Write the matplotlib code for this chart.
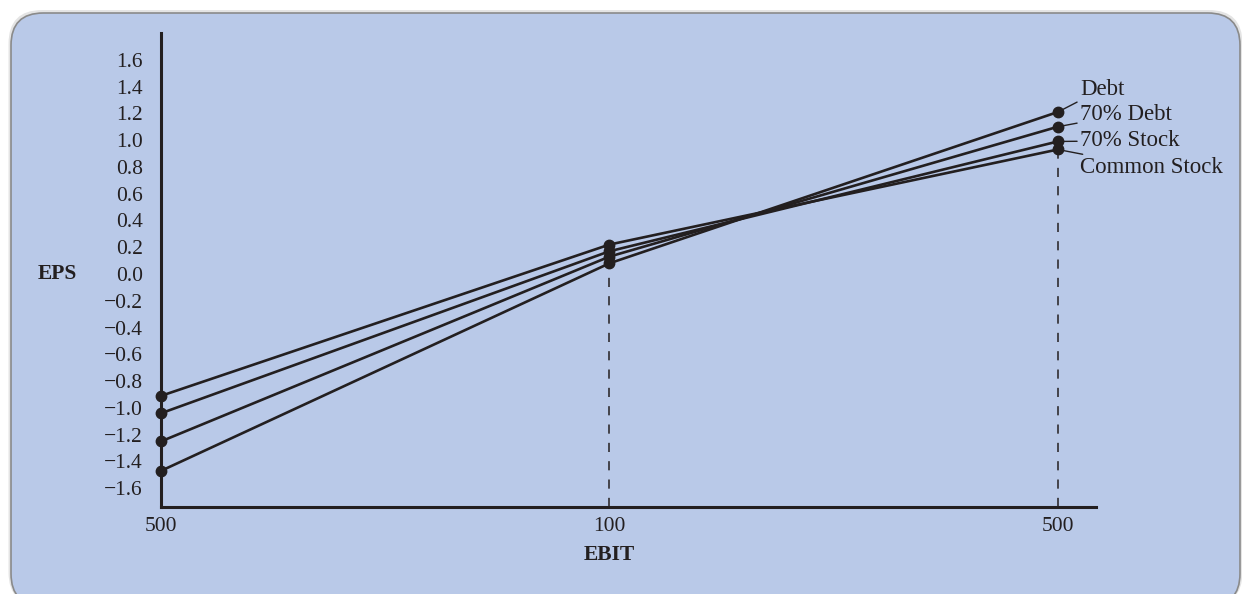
import matplotlib.pyplot as plt
from matplotlib.patches import FancyBboxPatch

# EBIT levels (tick labels as printed) and EPS for each plan
ebit_labels = ["500", "100", "500"]
series_names = ["Debt", "70% Debt", "70% Stock", "Common Stock"]
eps_debt = [-1.47, 0.08, 1.21]
eps_70debt = [-1.25, 0.13, 1.10]
eps_70stock = [-1.04, 0.17, 0.99]
eps_common = [-0.91, 0.22, 0.93]
y_ticks = [1.6, 1.4, 1.2, 1.0, 0.8, 0.6, 0.4, 0.2, 0.0, -0.2, -0.4, -0.6,
           -0.8, -1.0, -1.2, -1.4, -1.6]

plt.rcParams['font.family'] = ['Liberation Serif', 'DejaVu Serif']
ink = '#231f20'
bg = '#b9c9e8'

fig = plt.figure(figsize=(12.42, 5.94), dpi=100)
fig.patch.set_facecolor('white')

# rounded panel behind the chart (soft shadow + panel)
box_x, box_y = 11 / 1242, -0.02
box_w, box_h = 1229 / 1242, 1 - 13 / 594 + 0.02
shadow = FancyBboxPatch((box_x - 0.002, box_y), box_w + 0.004, box_h + 0.005,
                        boxstyle="round,pad=0,rounding_size=0.027",
                        transform=fig.transFigure, facecolor='#e4e4e4',
                        edgecolor='none', mutation_aspect=2.09, zorder=-6)
fig.patches.append(shadow)
panel = FancyBboxPatch((box_x, box_y), box_w, box_h,
                       boxstyle="round,pad=0,rounding_size=0.026",
                       transform=fig.transFigure, facecolor=bg,
                       edgecolor='#8a8a8a', linewidth=1.2, mutation_aspect=2.09,
                       zorder=-5)
fig.patches.append(panel)

ax = fig.add_axes([161 / 1242, 87 / 594, (1096 - 161) / 1242, (561 - 87) / 594])
ax.set_zorder(2)
ax.patch.set_visible(False)

x = range(len(ebit_labels))
all_series = [eps_debt, eps_70debt, eps_70stock, eps_common]
for ys in all_series:
    ax.plot(x, ys, color=ink, lw=1.9, marker='o', ms=7.5, clip_on=False, zorder=3)

# dashed drop lines at the middle and right EBIT levels
ax.plot([1, 1], [-1.74, min(s[1] for s in all_series)], color=ink, lw=1.1,
        ls=(0, (6, 6)), zorder=2)
ax.plot([2, 2], [-1.74, min(s[2] for s in all_series)], color=ink, lw=1.1,
        ls=(0, (6, 6)), zorder=2)

ax.set_xlim(0, 2.085)
ax.set_ylim(-1.74, 1.80)
ax.set_xticks(list(x))
ax.set_xticklabels(ebit_labels)
ax.set_yticks(y_ticks)
ax.set_yticklabels([f"{v:.1f}".replace('-', '\u2212') for v in y_ticks])
ax.tick_params(axis='both', length=0, labelsize=15.5, colors=ink)
ax.tick_params(axis='y', pad=13)
ax.tick_params(axis='x', pad=7)
for side in ['top', 'right']:
    ax.spines[side].set_visible(False)
for side in ['left', 'bottom']:
    ax.spines[side].set_linewidth(2.2)
    ax.spines[side].set_color(ink)

ax.set_xlabel("EBIT", fontsize=15.5, fontweight='bold', color=ink)
ax.xaxis.set_label_coords((609 - 161) / 935, -0.081)
ax.set_ylabel("EPS", fontsize=15.5, fontweight='bold', color=ink, rotation=0,
              va='center', ha='center')
ax.yaxis.set_label_coords(-0.111, (561 - 328) / 474)

# labels with leader lines at the right end
label_y = [1.38, 1.195, 0.995, 0.795]
for name, ys, ly in zip(series_names, all_series, label_y):
    ax.annotate(name, xy=(2, ys[2]), xytext=(2.049, ly), fontsize=16.5, color=ink,
                va='center', ha='left', annotation_clip=False,
                arrowprops=dict(arrowstyle='-', color=ink, lw=1.0,
                                shrinkA=0, shrinkB=4))

fig.savefig("out.png", dpi=100, facecolor='white')
